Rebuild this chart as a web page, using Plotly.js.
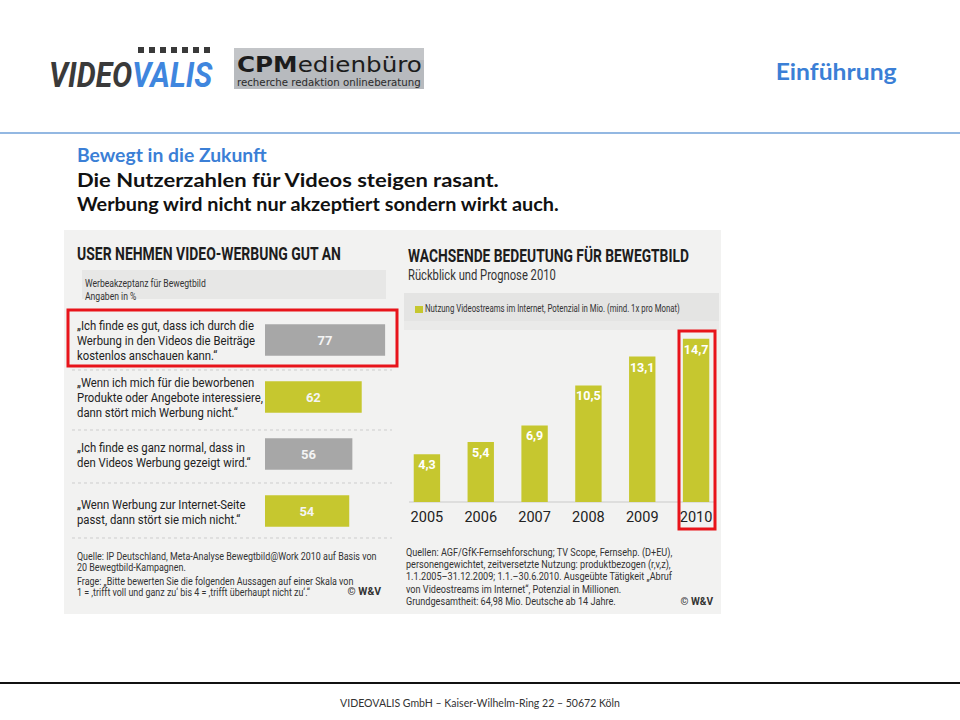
<!DOCTYPE html>
<html><head><meta charset="utf-8">
<script src="https://cdn.plot.ly/plotly-3.0.1.min.js"></script>
<style>html,body{margin:0;padding:0;background:#fff}#chart{width:960px;height:720px}</style>
</head><body><div id="chart"></div>
<script>
// ---- data ----
const statements = [
  ["„Ich finde es gut, dass ich durch die", "Werbung in den Videos die Beiträge", "kostenlos anschauen kann.“"],
  ["„Wenn ich mich für die beworbenen", "Produkte oder Angebote interessiere,", "dann stört mich Werbung nicht.“"],
  ["„Ich finde es ganz normal, dass in", "den Videos Werbung gezeigt wird.“"],
  ["„Wenn Werbung zur Internet-Seite", "passt, dann stört sie mich nicht.“"]
];
const acceptance = [77, 62, 56, 54];
const years = ["2005", "2006", "2007", "2008", "2009", "2010"];
const streams = [4.3, 5.4, 6.9, 10.5, 13.1, 14.7];
const leftTitle = "USER NEHMEN VIDEO-WERBUNG GUT AN";
const leftSubtitle = ["Werbeakzeptanz für Bewegtbild", "Angaben in %"];
const leftSource = [
  "Quelle: IP Deutschland, Meta-Analyse Bewegtbild@Work 2010 auf Basis von",
  "20 Bewegtbild-Kampagnen.",
  "Frage: „Bitte bewerten Sie die folgenden Aussagen auf einer Skala von",
  "1 = ‚trifft voll und ganz zu‘ bis 4 = ‚trifft überhaupt nicht zu‘.“"
];
const rightTitle = "WACHSENDE BEDEUTUNG FÜR BEWEGTBILD";
const rightSubtitle = "Rückblick und Prognose 2010";
const rightLegend = "Nutzung Videostreams im Internet, Potenzial in Mio. (mind. 1x pro Monat)";
const rightSource = [
  "Quellen: AGF/GfK-Fernsehforschung; TV Scope, Fernsehp. (D+EU),",
  "personengewichtet, zeitversetzte Nutzung: produktbezogen (r,v,z),",
  "1.1.2005–31.12.2009; 1.1.–30.6.2010. Ausgeübte Tätigkeit „Abruf",
  "von Videostreams im Internet“, Potenzial in Millionen.",
  "Grundgesamtheit: 64,98 Mio. Deutsche ab 14 Jahre."
];
const copyright = "© W&V";

// ---- styles ----
const YELLOW = "#c6c72f";
const GREY = "#a7a7a7";
const leftColors = [GREY, YELLOW, GREY, YELLOW];
const COND = "Roboto, sans-serif";
const SLIDE = "Lato, Open Sans, sans-serif";
const LOGO = "DejaVu Sans, Verdana, sans-serif";
const BLUE = "#3b7fd6";

const W = 960, H = 720;
const px = x => x / W;
const py = y => 1 - y / H;

const traces = [
  {
    type: "bar", orientation: "h",
    y: statements.map((s, i) => i), x: acceptance,
    xaxis: "x", yaxis: "y",
    marker: {color: leftColors},
    width: 0.55,
    text: acceptance.map(String), textposition: "inside", insidetextanchor: "middle",
    textangle: 0, constraintext: "none",
    textfont: {family: COND, size: 13, color: "#f4f4f4", weight: "bold"},
    hoverinfo: "skip"
  },
  {
    type: "bar",
    x: years, y: streams,
    xaxis: "x2", yaxis: "y2",
    marker: {color: YELLOW},
    width: 0.49,
    text: streams.map(v => v.toFixed(1).replace(".", ",")),
    textposition: "inside", insidetextanchor: "end",
    textangle: 0, constraintext: "none",
    textfont: {family: COND, size: 12.5, color: "#ffffff", weight: "bold"},
    hoverinfo: "skip"
  }
];

const shapes = [];
const ann = [];
const fits = [];           // per annotation: {w, group, ref, anchor}
const groupW = {};          // group name -> width factor
function rect(x0, y0, x1, y1, fill) {
  shapes.push({type: "rect", xref: "paper", yref: "paper", x0: px(x0), x1: px(x1), y0: py(y1), y1: py(y0),
    fillcolor: fill, line: {width: 0}, layer: "below"});
}
function hline(x0, x1, y, color, width, dash) {
  shapes.push({type: "line", xref: "paper", yref: "paper", x0: px(x0), x1: px(x1), y0: py(y), y1: py(y),
    line: {color: color, width: width, dash: dash || "solid"}, layer: "below"});
}
function text(x, y, t, size, color, family, xanchor, fit, yref) {
  ann.push({xref: "paper", yref: yref || "paper", x: px(x), y: yref ? y : py(y), text: t, showarrow: false,
    xanchor: xanchor || "left", yanchor: "middle", align: "left",
    font: {size: size, color: color, family: family}});
  fits.push(Object.assign({anchor: xanchor || "left"}, fit || {}));
}

// scanned panel background
rect(64, 230, 721, 614, "#f2f2f1");
rect(82, 270, 386, 299, "#e7e7e6");
rect(404, 293, 719, 321, "#e4e4e3");
rect(404, 321, 719, 330, "#eaeae9");
[370, 430, 483, 538].forEach(y => hline(72, 392, y, "#cdcdcd", 1, "dot"));
hline(409, 716, 502, "#c9c9c9", 1.2);

// slide lines
hline(0, 960, 133, "#6fa0d8", 1.5);
hline(0, 960, 683, "#111111", 2);

// logos
for (let i = 0; i < 7; i++) rect(138 + i * 11, 47, 144 + i * 11, 53, "#3a3a3a");
text(47, 76, "<i><b><span style='color:#3a3a3a'>VIDEO</span><span style='color:#3f86de'>VALIS</span></b></i>", 35, "#3a3a3a", COND, "left", {w: 164});
rect(234, 48, 424, 89, "#b7babe");
rect(234, 48, 424, 60, "#c3c5c8");
text(235, 65, "<b>CPM</b>edienbüro", 20.5, "#1c1c1c", LOGO, "left", {w: 185});
text(235, 82, "recherche redaktion onlineberatung", 11, "#2a2a2a", LOGO, "left", {w: 184});

// slide texts
text(899, 71, "<b>Einführung</b>", 23, BLUE, SLIDE, "right", {w: 121});
text(75, 155, "<b>Bewegt in die Zukunft</b>", 18.5, BLUE, SLIDE, "left", {w: 190});
text(75, 180, "<b>Die Nutzerzahlen für Videos steigen rasant.</b>", 18.5, "#111", SLIDE, "left", {w: 422});
text(75, 204, "<b>Werbung wird nicht nur akzeptiert sondern wirkt auch.</b>", 18.5, "#111", SLIDE, "left", {w: 482});
text(480, 702, "VIDEOVALIS GmbH – Kaiser-Wilhelm-Ring 22 – 50672 Köln", 11, "#333", SLIDE, "center", {w: 280});

// left chart texts
text(75, 254, "<b>" + leftTitle + "</b>", 17.5, "#1d1d1d", COND, "left", {w: 264});
leftSubtitle.forEach((l, k) => text(83, 284 + k * 12.5, l, 11, "#333", COND, "left", k === 0 ? {group: "sub", ref: 121} : {group: "sub"}));
const LINE = 15 / 57; // line spacing in category units
statements.forEach((lines, i) => {
  lines.forEach((l, k) => {
    const yv = i + (k - (lines.length - 1) / 2) * LINE;
    text(75, yv, l, 13.5, "#222", COND, "left", (i === 0 && k === 0) ? {group: "st", ref: 177} : {group: "st"}, "y");
  });
});
const lsY = [556, 567, 581, 592];
leftSource.forEach((l, k) => text(75, lsY[k], l, 11, "#333", COND, "left", k === 0 ? {group: "src", ref: 300} : {group: "src"}));
text(384, 591, "<b>" + copyright + "</b>", 11.5, "#333", COND, "right", {w: 34});

// right chart texts
text(406, 255, "<b>" + rightTitle + "</b>", 17.5, "#1d1d1d", COND, "left", {w: 281});
text(406, 275, rightSubtitle, 14, "#333", COND, "left", {w: 148});
rect(415, 306, 423, 313, YELLOW);
text(423, 309, rightLegend, 10, "#333", COND, "left", {w: 255});
rightSource.forEach((l, k) => text(404, 552 + k * 12.4, l, 11, "#333", COND, "left", k === 1 ? {group: "rsrc", ref: 265} : {group: "rsrc"}));
text(716, 601, "<b>" + copyright + "</b>", 11.5, "#333", COND, "right", {w: 33});

// red highlight frames
shapes.push({type: "rect", xref: "paper", yref: "paper", x0: px(68), x1: px(397), y0: py(366), y1: py(310), line: {color: "#e8141b", width: 3}, layer: "above"});
shapes.push({type: "rect", xref: "paper", yref: "paper", x0: px(679), x1: px(715), y0: py(529), y1: py(331), line: {color: "#e8141b", width: 3}, layer: "above"});

const layout = {
  width: W, height: H,
  margin: {l: 0, r: 0, t: 0, b: 0},
  paper_bgcolor: "#ffffff", plot_bgcolor: "rgba(0,0,0,0)",
  showlegend: false,
  xaxis: {domain: [px(265), px(265 + 80 * 1.56)], range: [0, 80], visible: false, fixedrange: true},
  yaxis: {domain: [py(539.5), py(311.5)], range: [3.5, -0.5], visible: false, fixedrange: true},
  xaxis2: {anchor: "y2", domain: [px(400), px(723)], showline: false, showgrid: false, zeroline: false,
    tickmode: "array", tickvals: years, ticktext: years, ticklabelstandoff: 4,
    ticks: "", tickfont: {family: COND, size: 14.5, color: "#222"}, fixedrange: true},
  yaxis2: {anchor: "x2", domain: [py(502), py(502 - 16 * 11.1)], range: [0, 16], visible: false, fixedrange: true},
  shapes: shapes,
  annotations: ann
};

function condense(gd) {
  const nodes = {};
  gd.querySelectorAll("g.annotation").forEach(g => { nodes[+g.getAttribute("data-index")] = g.querySelector("text.annotation-text"); });
  fits.forEach((f, i) => {
    if (f.ref && nodes[i]) { const bb = nodes[i].getBBox(); groupW[f.group] = f.ref / bb.width; }
  });
  fits.forEach((f, i) => {
    const t = nodes[i];
    if (!t) return;
    let fx = null;
    const bb = t.getBBox();
    if (f.w) fx = f.w / bb.width;
    else if (f.group) fx = groupW[f.group];
    if (!fx) return;
    const ax = f.anchor === "right" ? bb.x + bb.width : f.anchor === "center" ? bb.x + bb.width / 2 : bb.x;
    t.setAttribute("transform", "translate(" + (ax * (1 - fx)) + ",0) scale(" + fx + ",1)");
  });
}
const gd = document.getElementById("chart");
Plotly.newPlot(gd, traces, layout, {displayModeBar: false, staticPlot: true}).then(() => {
  (document.fonts ? document.fonts.ready : Promise.resolve()).then(() => condense(gd));
});
</script></body></html>
